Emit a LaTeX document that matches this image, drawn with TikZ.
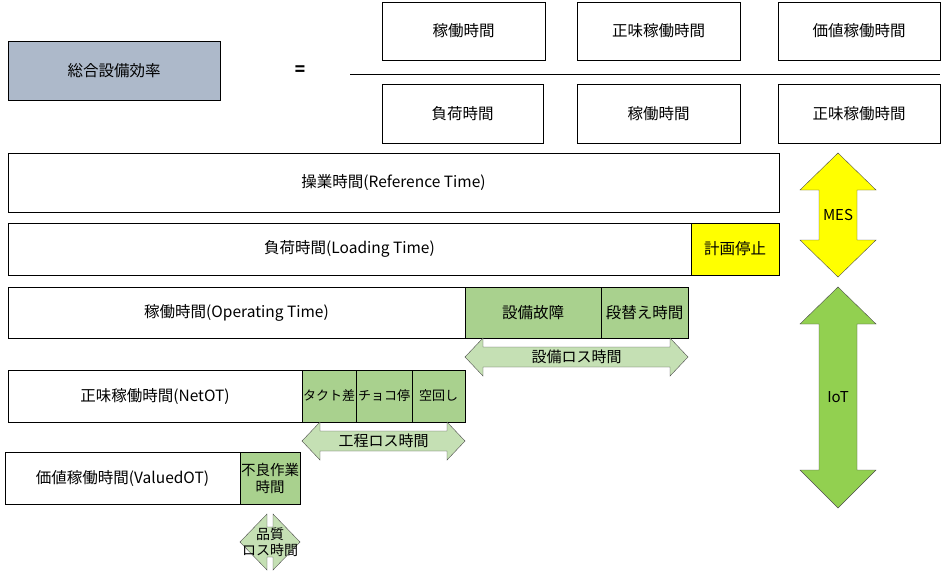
\documentclass[tikz,border=0pt]{standalone}
\usepackage{fontspec}
\setmainfont{Noto Sans CJK JP}
\definecolor{oeeblue}{RGB}{173,185,202}
\definecolor{lossgreen}{RGB}{169,209,142}
\definecolor{paleg}{RGB}{197,224,180}
\definecolor{iotgreen}{RGB}{146,208,80}
\definecolor{mesyellow}{RGB}{255,255,0}
\begin{document}
\begin{tikzpicture}[x=1pt,y=-1pt,
  bar/.style={draw,inner sep=0pt,outer sep=0pt,anchor=north west,align=center,
    font=\fontsize{15.5}{18}\selectfont},
  loss/.style={bar,fill=lossgreen},
  small/.style={font=\fontsize{13}{15}\selectfont},
  band/.style={fill=paleg,draw=black!70},
  lbl/.style={font=\fontsize{15}{17}\selectfont,align=center,inner sep=0pt},
]
\useasboundingbox (0,0) rectangle (944,576);

% === formula ===
\node[bar,fill=oeeblue,minimum width=212pt,minimum height=59pt] (oee) at (8,41) {総合設備効率};
\node[font=\bfseries\fontsize{17}{19}\selectfont] (eq) at (300,71) {=};
\draw (350,74) -- (940,74);

\node[bar,minimum width=163pt,minimum height=58pt] (num1) at (382,2) {稼働時間};
\node[bar,minimum width=163pt,minimum height=58pt] (num2) at (577,2) {正味稼働時間};
\node[bar,minimum width=162pt,minimum height=58pt] (num3) at (778,2) {価値稼働時間};
\node[bar,minimum width=161pt,minimum height=59pt] (den1) at (382,84) {負荷時間};
\node[bar,minimum width=163pt,minimum height=59pt] (den2) at (577,84) {稼働時間};
\node[bar,minimum width=162pt,minimum height=59pt] (den3) at (778,84) {正味稼働時間};

% === time bars ===
\node[bar,minimum width=771pt,minimum height=59pt] (ref) at (8,153) {操業時間(Reference Time)};

\node[bar,minimum width=683pt,minimum height=52pt] (load) at (8,223) {負荷時間(Loading Time)};
\node[bar,fill=mesyellow,minimum width=88pt,minimum height=52pt] (stop) at (691,223) {計画停止};

\node[bar,minimum width=457pt,minimum height=51pt] (op) at (8,287) {稼働時間(Operating Time)};
\node[loss,minimum width=136pt,minimum height=51pt] (fail) at (465,287) {設備故障};
\node[loss,minimum width=87pt,minimum height=51pt] (setup) at (601,287) {段替え時間};

\node[bar,minimum width=294pt,minimum height=52pt] (net) at (8,370) {正味稼働時間(NetOT)};
\node[loss,small,minimum width=54pt,minimum height=52pt] (takt) at (302,370) {タクト差};
\node[loss,small,minimum width=56pt,minimum height=52pt] (choko) at (356,370) {チョコ停};
\node[loss,small,minimum width=53pt,minimum height=52pt] (kara) at (412,370) {空回し};

\node[bar,minimum width=235pt,minimum height=52pt] (val) at (5,452) {価値稼働時間(ValuedOT)};
\node[loss,font=\fontsize{14.5}{17}\selectfont,minimum width=60pt,minimum height=52pt] (defect) at (240,452) {不良作業\\時間};

% === loss arrows ===
\draw[band] (465,357) -- (483,338) -- (483,347) -- (670,347) -- (670,338) -- (688,357)
  -- (670,376) -- (670,367) -- (483,367) -- (483,376) -- cycle;
\node[lbl] (eqloss) at (576.5,357) {設備ロス時間};

\draw[band] (302,441) -- (320,422) -- (320,431) -- (447,431) -- (447,422) -- (465,441)
  -- (447,460) -- (447,451) -- (320,451) -- (320,460) -- cycle;
\node[lbl] (procloss) at (383.5,441) {工程ロス時間};

\draw[band] (240,542) -- (267,514) -- (267,527) -- (273,527) -- (273,514) -- (300,542)
  -- (273,570) -- (273,557) -- (267,557) -- (267,570) -- cycle;
\node[lbl,font=\fontsize{14}{16}\selectfont] (qualloss) at (270,542) {品質\\ロス時間};

% === MES / IoT ===
\draw[fill=mesyellow,draw=black!70] (838,153) -- (876,190) -- (857,190) -- (857,240) -- (876,240)
  -- (838,277) -- (800,240) -- (819,240) -- (819,190) -- (800,190) -- cycle;
\node[lbl] (mes) at (838,215) {MES};

\draw[fill=iotgreen,draw=black!70] (838,287) -- (876,324) -- (857,324) -- (857,470) -- (876,470)
  -- (838,508) -- (800,470) -- (819,470) -- (819,324) -- (800,324) -- cycle;
\node[lbl] (iot) at (838,397) {IoT};
\end{tikzpicture}
\end{document}
